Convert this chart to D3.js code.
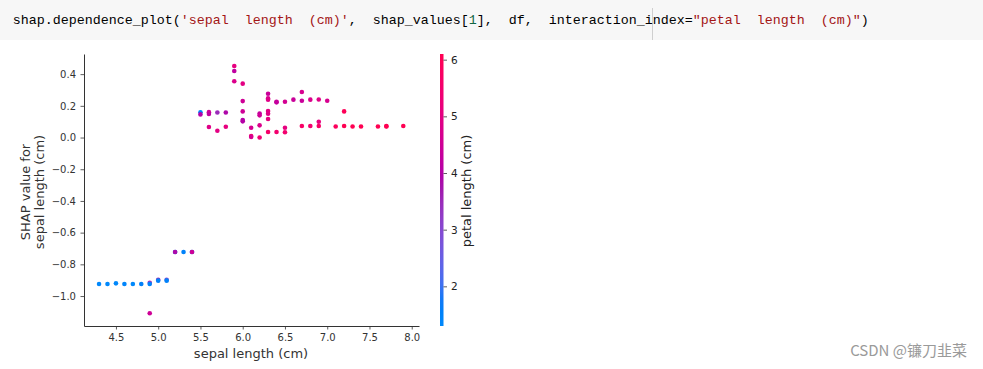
<!DOCTYPE html>
<html>
<head>
<meta charset="utf-8">
<script src="https://cdn.jsdelivr.net/npm/d3@7"></script>
<style>
  body { margin: 0; background: #fff; }
  svg text { font-family: "DejaVu Sans", sans-serif; }
</style>
</head>
<body>
<svg id="chart" width="983" height="369"></svg>
<script>
// iris sepal length vs SHAP value, coloured by petal length
var sepalLength = [4.9, 5.0, 5.1, 4.9, 5.2,
  4.3, 4.4, 4.5, 4.6, 4.7, 4.8, 4.9, 5.0, 5.1, 5.2, 5.3, 5.4, 5.5,
  5.4, 5.5, 5.6, 5.6, 5.6, 5.7, 5.7, 5.8, 5.8, 5.9, 5.9, 5.9,
  6.0, 6.0, 6.0, 6.0, 6.0, 6.1, 6.1, 6.1, 6.2, 6.2, 6.2, 6.2,
  6.3, 6.3, 6.3, 6.3, 6.3, 6.3, 6.3, 6.4, 6.4, 6.4, 6.5, 6.5, 6.5,
  6.6, 6.7, 6.7, 6.7, 6.8, 6.8, 6.9, 6.9, 6.9, 7.0, 7.1, 7.2, 7.2,
  7.3, 7.4, 7.6, 7.7, 7.7, 7.9];
var shapValue = [-0.916, -0.898, -0.898, -1.109, -0.722,
  -0.924, -0.924, -0.92, -0.924, -0.924, -0.924, -0.924, -0.903, -0.903, -0.722, -0.722, -0.722, 0.159,
  -0.722, 0.146, 0.16, 0.148, 0.066, 0.158, 0.043, 0.158, 0.068, 0.451, 0.42, 0.355,
  0.34, 0.23, 0.165, 0.11, 0.102, 0.062, 0.009, 0.004, 0.152, 0.14, 0.077, 0.0,
  0.276, 0.247, 0.239, 0.167, 0.15, 0.117, 0.035, 0.226, 0.222, 0.035, 0.226, 0.062, 0.033,
  0.239, 0.287, 0.232, 0.073, 0.239, 0.073, 0.24, 0.1, 0.073, 0.232, 0.07, 0.165, 0.073,
  0.07, 0.07, 0.07, 0.07, 0.072, 0.073];
var petalLength = [3.3, 3.5, 3.0, 4.5, 1.5,
  1.1, 1.3, 1.3, 1.4, 1.3, 1.6, 1.5, 1.5, 1.5, 3.9, 1.5, 1.7, 1.4,
  4.5, 4.0, 4.5, 4.2, 4.9, 3.5, 5.0, 3.9, 5.1, 5.1, 4.2, 4.8,
  5.0, 4.5, 4.5, 4.0, 4.0, 4.7, 5.6, 4.7, 4.3, 4.5, 4.8, 5.4,
  4.4, 4.7, 4.9, 5.0, 4.9, 5.1, 5.6, 4.5, 4.3, 5.5, 4.6, 5.1, 5.5,
  4.4, 4.7, 4.4, 5.7, 4.8, 5.5, 4.9, 5.1, 5.7, 4.7, 5.9, 6.0, 6.1,
  6.3, 6.1, 6.6, 6.7, 6.9, 6.4];

var xTicks = [4.5, 5.0, 5.5, 6.0, 6.5, 7.0, 7.5, 8.0];
var yTicks = [-1.0, -0.8, -0.6, -0.4, -0.2, 0.0, 0.2, 0.4];
var cbTicks = [2, 3, 4, 5, 6];

var svg = d3.select("#chart");

// notebook code cell above the figure
svg.append("rect").attr("x", 0).attr("y", 0).attr("width", 983).attr("height", 40)
  .attr("fill", "#f7f7f7");
svg.append("line").attr("x1", 652.5).attr("x2", 652.5).attr("y1", 8).attr("y2", 40)
  .attr("stroke", "#cfcfcf");
var code = [
  ["shap.dependence_plot(", "#000"],
  ["'sepal  length  (cm)'", "#a31515"],
  [",  shap_values[", "#000"],
  ["1", "#116644"],
  ["],  df,  interaction_index=", "#000"],
  ["\"petal  length  (cm)\"", "#a31515"],
  [")", "#000"]
];
var charW = 8, col = 0;
code.forEach(function(c){
  svg.append("text")
    .attr("x", 12.7 + col * charW).attr("y", 24)
    .attr("xml:space", "preserve")
    .attr("fill", c[1])
    .style("font-family", "'Liberation Mono', monospace")
    .style("font-size", "13.33px")
    .text(c[0]);
  col += c[0].length;
});

// shap red_blue colormap (LCH interpolation)
function redBlue(t){
  t = Math.max(0, Math.min(1, t));
  var l = t < 0.5 ? 54 + (40 - 54) * (t / 0.5) : 40 + (54 - 40) * ((t - 0.5) / 0.5);
  var c = 70 + 20 * t;
  var h = (4.6588 + t * (0.35470565 + 2 * Math.PI - 4.6588)) * 180 / Math.PI;
  return d3.hcl(h, c, l).formatHex();
}

var x = d3.scaleLinear().domain([4.122, 8.086]).range([84, 419]);
var y = d3.scaleLinear().domain([-1.189, 0.527]).range([326, 54]);
var cb = d3.scaleLinear().domain([1.3, 6.1]).range([326, 54]);
var color = function(v){ return redBlue((v - 1.3) / (6.1 - 1.3)); };

var fmt = d3.format(".1f");

var g = svg.append("g");

g.selectAll("circle")
  .data(sepalLength)
  .enter()
  .append("circle")
  .attr("cx", function(d){ return x(d); })
  .attr("cy", function(d, i){ return y(shapValue[i]); })
  .attr("r", 2.3)
  .attr("fill", function(d, i){ return color(petalLength[i]); });

var xAxis = g.append("g").attr("transform", "translate(0,326)")
  .call(d3.axisBottom(x).tickValues(xTicks).tickFormat(fmt)
    .tickSize(3.5).tickSizeOuter(0).tickPadding(4.5));
var yAxis = g.append("g").attr("transform", "translate(84,0)")
  .call(d3.axisLeft(y).tickValues(yTicks).tickFormat(fmt)
    .tickSize(3.5).tickSizeOuter(0).tickPadding(4.5));

[xAxis, yAxis].forEach(function(a){
  a.select(".domain").attr("stroke", "#333").attr("stroke-width", 1);
  a.selectAll(".tick line").attr("stroke", "#333").attr("stroke-width", 0.8);
  a.selectAll(".tick text").attr("fill", "#333")
    .style("font-family", "'DejaVu Sans', sans-serif").style("font-size", "10px");
});

g.append("text")
  .attr("x", 251).attr("y", 358)
  .attr("text-anchor", "middle")
  .attr("fill", "#333")
  .style("font-size", "13px")
  .text("sepal length (cm)");

var yl = g.append("text")
  .attr("transform", "translate(0,192) rotate(-90)")
  .attr("text-anchor", "middle")
  .attr("fill", "#333")
  .style("font-size", "13px");
yl.append("tspan").attr("x", 0).attr("y", 29.5).text("SHAP value for");
yl.append("tspan").attr("x", 0).attr("y", 44).text("sepal length (cm)");

// colour bar
var grad = svg.append("defs").append("linearGradient")
  .attr("id", "cbgrad").attr("x1", 0).attr("y1", 1).attr("x2", 0).attr("y2", 0);
d3.range(0, 1.0001, 0.05).forEach(function(t){
  grad.append("stop").attr("offset", t).attr("stop-color", redBlue(t));
});
svg.append("rect")
  .attr("x", 440).attr("y", cb.range()[1])
  .attr("width", 3.5).attr("height", cb.range()[0] - cb.range()[1])
  .attr("fill", "url(#cbgrad)");

var cAxis = svg.append("g").attr("transform", "translate(443.5,0)")
  .call(d3.axisRight(cb).tickValues(cbTicks).tickFormat(d3.format("d"))
    .tickSize(3.5).tickSizeOuter(0).tickPadding(4));
cAxis.select(".domain").remove();
cAxis.selectAll(".tick line").attr("stroke", "#333").attr("stroke-width", 0.8);
cAxis.selectAll(".tick text").attr("fill", "#222")
  .style("font-family", "'DejaVu Sans', sans-serif").style("font-size", "10.5px");

svg.append("text")
  .attr("transform", "translate(470.5,191) rotate(-90)")
  .attr("text-anchor", "middle")
  .attr("fill", "#222")
  .style("font-size", "13px")
  .text("petal length (cm)");

// watermark
svg.append("text")
  .attr("x", 967).attr("y", 356)
  .attr("text-anchor", "end")
  .attr("fill", "#9a9a9a")
  .style("font-family", "'Noto Sans CJK SC', sans-serif")
  .style("font-size", "15px")
  .text("CSDN @镰刀韭菜");
</script>
</body>
</html>
